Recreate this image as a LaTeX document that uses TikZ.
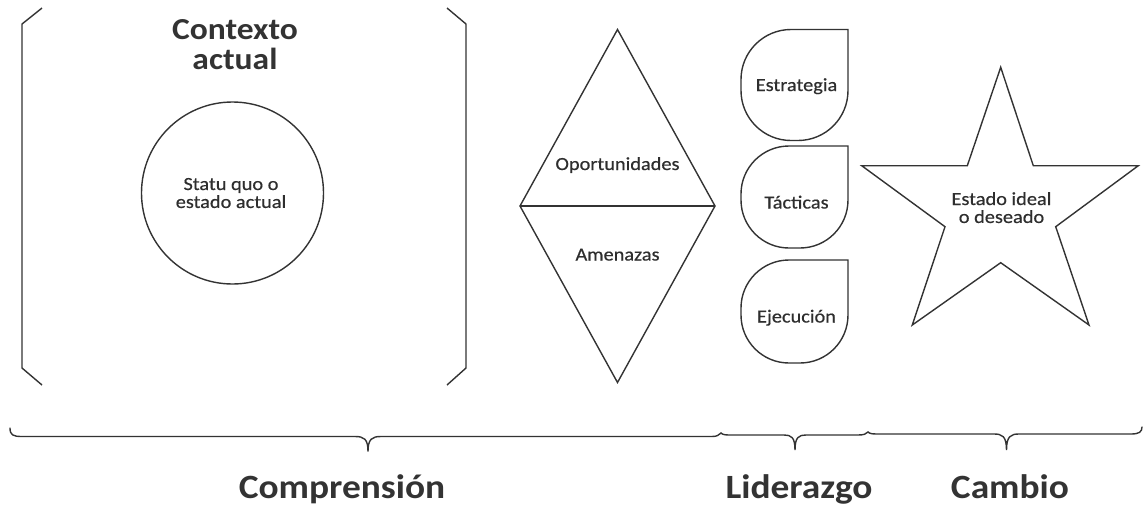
\documentclass[tikz,border=0pt]{standalone}
\usepackage{fontspec}
\setmainfont{Carlito}[FakeStretch=1.1]
\newfontfamily\labelfont{Carlito}[FakeStretch=1.1,FakeBold=0.5]
\definecolor{ink}{HTML}{333333}
\definecolor{txt}{HTML}{333333}
\definecolor{txtsmall}{HTML}{2E2E2E}
\tikzset{
  shapeline/.style={draw=ink, line width=1.4pt, line join=miter},
  bracketline/.style={draw=ink, line width=1.4pt},
  bracel/.style={draw=ink, line width=1.4pt, line cap=round},
  small/.style={text=txtsmall, anchor=base, inner sep=0pt, font=\labelfont\fontsize{18.5}{17}\selectfont},
  title/.style={text=txt, anchor=base, inner sep=0pt, font=\bfseries\fontsize{30.5}{30}\selectfont},
  bottomlabel/.style={text=txt, anchor=base, inner sep=0pt, font=\bfseries\fontsize{34}{34}\selectfont}
}
\newcommand\teardropshape[5]{% L R T B r
  \draw[shapeline] (#2,#3) -- ({#1+#5},#3) arc[start angle=270,end angle=180,radius=#5]
    -- (#1,{#4-#5}) arc[start angle=180,end angle=90,radius=#5]
    -- ({#2-#5},#4) arc[start angle=90,end angle=0,radius=#5] -- cycle;}
\begin{document}
\begin{tikzpicture}[x=1pt,y=-1pt]
\useasboundingbox (0,0) rectangle (1144,507);
% bracket
\draw[bracketline] (42,8) -- (22,24) -- (22,368) -- (42,385);
\draw[bracketline] (447,8) -- (466,24) -- (466,368) -- (447,385);
\node[title] (ctx) at (235,39) {\begin{tabular}[t]{@{}c@{}}Contexto\\actual\end{tabular}};
% circle
\draw[shapeline] (232.5,193) circle[radius=91];
\node[small] (statu) at (231,190) {\begin{tabular}[t]{@{}c@{}}Statu quo o\\estado actual\end{tabular}};
% diamond
\draw[shapeline] (617.5,29.5) -- (715,206) -- (617.5,382.5) -- (520,206) -- cycle;
\draw[shapeline] (520,206) -- (715,206);
\node[small] (op) at (617.5,170) {Oportunidades};
\node[small] (am) at (617.5,260.5) {Amenazas};
% teardrops
\teardropshape{741}{848}{29.5}{140.5}{50}
\teardropshape{741}{848}{146}{248}{48}
\teardropshape{741}{848}{260}{363}{48}
\node[small] (es) at (796.5,91) {Estrategia};
\node[small] (ta) at (796.5,208.5) {Tácticas};
\node[small] (ej) at (796.5,322.5) {Ejecución};
% star
\draw[shapeline] (1000.7,67.3) -- (1033.3,165.7) -- (1138.3,165.7) -- (1055.7,226.7) -- (1089,325)
  -- (1000.7,262.7) -- (912.3,325) -- (945,226.7) -- (861.7,165.7) -- (967.3,165.7) -- cycle;
\node[small] (st) at (1001.5,205) {\begin{tabular}[t]{@{}c@{}}Estado ideal\\o deseado\end{tabular}};
% braces
\draw[bracel] (10,428) .. controls (10,435) and (13,436.5) .. (22,436.5) -- (355,436.5)
  .. controls (364,436.5) and (368,439) .. (368,451.5)
  .. controls (368,439) and (372,436.5) .. (381,436.5) -- (712,436.5)
  .. controls (717,436.5) and (719,435) .. (721,433);
\draw[bracel] (721,433) .. controls (723,435) and (726,435) .. (732,435) -- (784,435)
  .. controls (791,435) and (795,437) .. (795,450)
  .. controls (795,437) and (799,435) .. (806,435) -- (858,435)
  .. controls (864,435) and (866,434) .. (868,432);
\draw[bracel] (868,432) .. controls (870,434) and (873,434) .. (880,434) -- (994,434)
  .. controls (1002,434) and (1006.5,436) .. (1006.5,450)
  .. controls (1006.5,436) and (1011,434) .. (1019,434) -- (1131,434)
  .. controls (1139,434) and (1142,432) .. (1142,427);
\node[bottomlabel] (comp) at (342,498) {Comprensión};
\node[bottomlabel] (lid) at (799,498) {Liderazgo};
\node[bottomlabel] (camb) at (1010,498) {Cambio};
\end{tikzpicture}
\end{document}
